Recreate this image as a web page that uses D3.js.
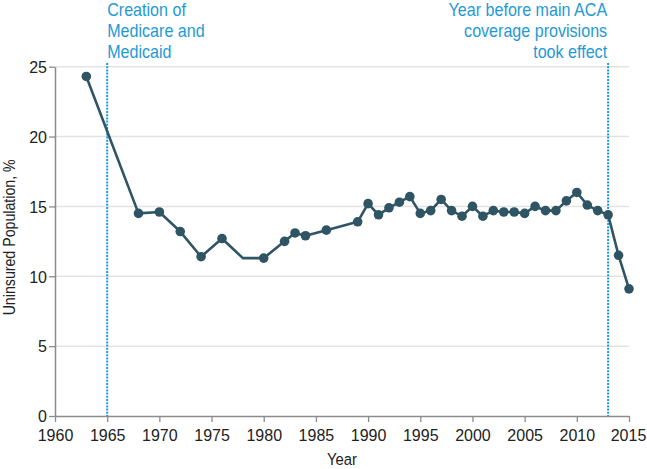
<!DOCTYPE html>
<html>
<head>
<meta charset="utf-8">
<script src="https://cdn.jsdelivr.net/npm/d3@7"></script>
<style>
  html, body { margin: 0; padding: 0; background: #fff; }
  svg { display: block; }
  text { font-family: "Liberation Sans", Arial, sans-serif; }
</style>
</head>
<body>
<svg id="chart" width="647" height="469"></svg>
<script>
const years = [1963, 1968, 1970, 1972, 1974, 1976, 1978, 1980, 1982, 1983, 1984, 1986, 1989,
  1990, 1991, 1992, 1993, 1994, 1995, 1996, 1997, 1998, 1999, 2000, 2001, 2002, 2003, 2004,
  2005, 2006, 2007, 2008, 2009, 2010, 2011, 2012, 2013, 2014, 2015];
const uninsured = [24.3, 14.5, 14.6, 13.2, 11.4, 12.7, 11.3, 11.3, 12.5, 13.1, 12.9, 13.3, 13.9,
  15.2, 14.4, 14.9, 15.3, 15.7, 14.5, 14.7, 15.5, 14.7, 14.3, 15.0, 14.3, 14.7, 14.6, 14.6,
  14.5, 15.0, 14.7, 14.7, 15.4, 16.0, 15.1, 14.7, 14.4, 11.5, 9.1];
const noMarkerYears = [1978];
const xTicks = [1960, 1965, 1970, 1975, 1980, 1985, 1990, 1995, 2000, 2005, 2010, 2015];
const yTicks = [0, 5, 10, 15, 20, 25];
const annotationYears = [1965, 2013];
const annotationTexts = [
  ["Creation of", "Medicare and", "Medicaid"],
  ["Year before main ACA", "coverage provisions", "took effect"]
];
const xLabel = "Year";
const yLabel = "Uninsured Population, %";

const svg = d3.select("#chart");
const margin = { left: 55, right: 18, top: 66.7, bottom: 53 };
const W = 647, H = 469;
const x = d3.scaleLinear().domain([1960, 2015]).range([margin.left, W - margin.right]);
const y = d3.scaleLinear().domain([0, 25]).range([H - margin.bottom, margin.top]);

const lineColor = "#2f5565";
const blue = "#1e9ad6";
const axisColor = "#8c8c8c";
const textColor = "#222";

// gridlines
svg.append("g").selectAll("line").data(yTicks.filter(d => d > 0)).join("line")
  .attr("x1", x(1960)).attr("x2", x(2015))
  .attr("y1", d => y(d)).attr("y2", d => y(d))
  .attr("stroke", "#e3e3e3").attr("stroke-width", 1.5);

// axes
const xAxis = svg.append("g").attr("transform", `translate(0,${y(0)})`)
  .call(d3.axisBottom(x).tickValues(xTicks).tickFormat(d3.format("d")).tickSize(6).tickSizeOuter(0));
const yAxis = svg.append("g").attr("transform", `translate(${x(1960)},0)`)
  .call(d3.axisLeft(y).tickValues(yTicks).tickSize(6).tickSizeOuter(0));
[xAxis, yAxis].forEach(g => {
  g.select(".domain").attr("stroke", axisColor).attr("stroke-width", 1.5);
  g.selectAll(".tick line").attr("stroke", axisColor).attr("stroke-width", 1.3);
  g.selectAll(".tick text").attr("fill", textColor).attr("font-size", 16)
    .style("font-family", '"Liberation Sans", Arial, sans-serif');
});
xAxis.selectAll(".tick text").attr("dy", null).attr("y", 25);
xAxis.selectAll(".tick").filter(d => d === 2015).select("text").attr("x", -1);
yAxis.selectAll(".tick text").attr("x", -8).attr("dy", "0.36em");

// annotation dotted lines
svg.append("g").selectAll("line").data(annotationYears).join("line")
  .attr("x1", d => x(d)).attr("x2", d => x(d))
  .attr("y1", 63).attr("y2", y(0))
  .attr("stroke", blue).attr("stroke-width", 2).attr("stroke-dasharray", "2,1.2");

// annotation texts (horizontally condensed to mimic the condensed face)
annotationTexts.forEach((lines, i) => {
  const ax = i === 0 ? x(annotationYears[i]) : x(annotationYears[i]) - 1;
  const g = svg.append("g").attr("transform", `translate(${ax},0) scale(0.92,1)`);
  const t = g.append("text")
    .attr("fill", blue).attr("font-size", 17.5)
    .attr("text-anchor", i === 0 ? "start" : "end");
  lines.forEach((ln, j) => {
    t.append("tspan").attr("x", 0).attr("y", 16 + j * 21.2).text(ln);
  });
});

// line
const pts = years.map((yr, i) => ({ yr, v: uninsured[i] }));
svg.append("path").datum(pts)
  .attr("fill", "none").attr("stroke", lineColor).attr("stroke-width", 2.6)
  .attr("stroke-linejoin", "round")
  .attr("d", d3.line().x(d => x(d.yr)).y(d => y(d.v)));

svg.append("g").selectAll("circle").data(pts.filter(d => !noMarkerYears.includes(d.yr))).join("circle")
  .attr("cx", d => x(d.yr)).attr("cy", d => y(d.v)).attr("r", 4.8)
  .attr("fill", lineColor);

// axis labels
svg.append("text")
  .attr("transform", `translate(${(x(1960) + x(2015)) / 2},465) scale(0.9,1)`)
  .attr("text-anchor", "middle").attr("font-size", 16.5).attr("fill", textColor).text(xLabel);
svg.append("text")
  .attr("transform", `translate(15,${(y(0) + y(25)) / 2 - 4}) rotate(-90) scale(0.86,1)`)
  .attr("text-anchor", "middle").attr("font-size", 16.5).attr("fill", textColor).text(yLabel);
</script>
</body>
</html>
